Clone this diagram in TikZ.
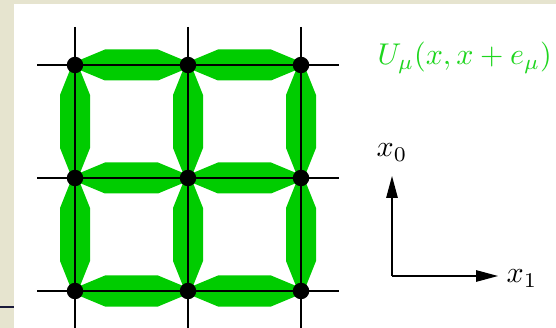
\documentclass[tikz,border=0pt]{standalone}
\usetikzlibrary{arrows.meta}
\definecolor{bgbeige}{RGB}{230,228,207}
\definecolor{linkgreen}{RGB}{0,204,0}
\definecolor{labgreen}{RGB}{30,214,30}
\definecolor{navyline}{RGB}{26,26,58}
\tikzset{
  dot/.style={circle,fill=black,inner sep=0pt,minimum size=16.5pt},
  gridline/.style={black,line width=1.1pt},
  axis/.style={black,line width=1.2pt,-{Triangle[length=22pt,width=11.5pt]}},
  lab/.style={scale=3,inner sep=0pt},
  linkfill/.style={fill=linkgreen,draw=none}
}
\begin{document}
\begin{tikzpicture}[x=1pt,y=-1pt]
  \fill[bgbeige] (0,0) rectangle (556,328);
  \fill[white] (14,4) rectangle (556,328);
  \useasboundingbox (0,0) rectangle (556,328);
  \draw[navyline,line width=2pt] (0,307) -- (14,307);
  % horizontal links
  \foreach \y in {65,178,291}{
    \foreach \xa/\xb in {75/188,188/301}{
      \fill[linkfill] (\xa,\y-3) -- (\xa+30,\y-15.5) -- (\xb-30,\y-15.5) -- (\xb,\y-3)
        -- (\xb,\y+3) -- (\xb-30,\y+15.5) -- (\xa+30,\y+15.5) -- (\xa,\y+3) -- cycle;
    }
  }
  % vertical links
  \foreach \x in {75,188,301}{
    \foreach \ya/\yb in {65/178,178/291}{
      \fill[linkfill] (\x-3,\ya) -- (\x-15,\ya+30) -- (\x-15,\yb-30) -- (\x-3,\yb)
        -- (\x+3,\yb) -- (\x+15,\yb-30) -- (\x+15,\ya+30) -- (\x+3,\ya) -- cycle;
    }
  }
  % lattice sites
  \foreach \i/\x in {1/75,2/188,3/301}{
    \foreach \j/\y in {1/65,2/178,3/291}{
      \coordinate (s-\i-\j) at (\x,\y);
    }
    \coordinate (top-\i) at (\x,27);
    \coordinate (bot-\i) at (\x,330);
  }
  \foreach \j/\y in {1/65,2/178,3/291}{
    \coordinate (left-\j) at (37,\y);
    \coordinate (right-\j) at (339,\y);
  }
  \foreach \j in {1,2,3}{
    \draw[gridline] (left-\j) -- (s-1-\j) -- (s-2-\j) -- (s-3-\j) -- (right-\j);
  }
  \foreach \i in {1,2,3}{
    \draw[gridline] (top-\i) -- (s-\i-1) -- (s-\i-2) -- (s-\i-3) -- (bot-\i);
  }
  \foreach \i in {1,2,3}{
    \foreach \j in {1,2,3}{
      \node[dot] (p-\i-\j) at (s-\i-\j) {};
    }
  }
  % labels
  \node[lab,anchor=base west,text=labgreen] (ulab) at (377,65) {$U_\mu(x,x+e_\mu)$};
  \coordinate (origin) at (392,276);
  \coordinate (x0tip) at (392,176);
  \coordinate (x1tip) at (498,276);
  \draw[axis] (origin) -- (x0tip);
  \draw[axis] (origin) -- (x1tip);
  \node[lab,anchor=base west] (x0lab) at (376,157) {$x_0$};
  \node[lab,anchor=base west] (x1lab) at (506,283) {$x_1$};
\end{tikzpicture}
\end{document}
